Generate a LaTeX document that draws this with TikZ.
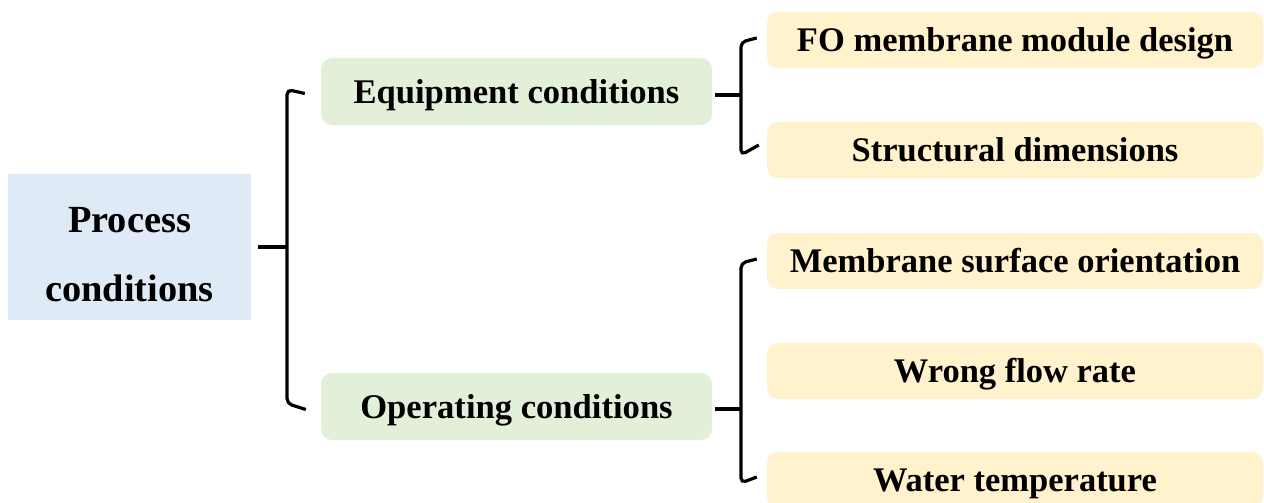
\documentclass[tikz,border=0pt]{standalone}
\usepackage{fontspec}
\setmainfont{Liberation Serif}
\definecolor{blueF}{HTML}{DEEBF7}
\definecolor{greenF}{HTML}{E2F0D9}
\definecolor{yellowF}{HTML}{FFF2CC}
\tikzset{
  rootbox/.style={fill=blueF, draw=none, minimum width=243pt, minimum height=146pt, inner sep=0pt},
  roottext/.style={align=center, inner sep=0pt, font=\bfseries\fontsize{38.4}{69}\selectfont},
  midbox/.style={fill=greenF, draw=none, rounded corners=11pt, minimum width=391pt, minimum height=67pt, inner sep=0pt,
    text height=23pt, text depth=0pt, font=\bfseries\fontsize{34.6}{40}\selectfont},
  leafbox/.style={fill=yellowF, draw=none, rounded corners=11pt, minimum width=496pt, minimum height=56pt, inner sep=0pt,
    text height=23pt, text depth=0pt, font=\bfseries\fontsize{34.5}{40}\selectfont},
  brace/.style={draw=black, line width=3.2pt, rounded corners=5pt, line cap=butt}
}
\begin{document}
\begin{tikzpicture}[x=1pt,y=-1pt]
\useasboundingbox (0,0) rectangle (1264,503);
\clip (0,0) rectangle (1264,503);
\node[rootbox] (proc) at (129.5,247) {};
\node[roottext, anchor=north] (proctext) at (129.5,207) {Process\\conditions};
\node[midbox] (equip) at (516.5,91.5) {Equipment conditions};
\node[midbox] (oper) at (516.5,406.5) {Operating conditions};
\node[leafbox] (fo) at (1015,40) {FO membrane module design};
\node[leafbox] (sd) at (1015,150) {Structural dimensions};
\node[leafbox] (mso) at (1015,261) {Membrane surface orientation};
\node[leafbox] (wfr) at (1015,371) {Wrong flow rate};
\node[leafbox] (wt) at (1015,480) {Water temperature};
% main bracket
\coordinate (s0) at (287,247);
\draw[brace] ([xshift=7pt]proc.east) -- (s0);
\draw[brace] ([xshift=-16pt,yshift=-2pt]equip.west) -- (287,89.5) -- (287,403.5) -- ([xshift=-15pt,yshift=-3pt]oper.west);
% equipment bracket
\coordinate (s1) at (741,95);
\draw[brace] ([xshift=3pt]equip.east |- s1) -- (s1);
\draw[brace] ([xshift=-10pt,yshift=2pt]fo.west) -- (741,42) -- (741,155) -- ([xshift=-8pt,yshift=5pt]sd.west);
% operating bracket
\coordinate (s2) at (741,409);
\draw[brace] ([xshift=3pt]oper.east |- s2) -- (s2);
\draw[brace] ([xshift=-10pt,yshift=2pt]mso.west) -- (741,263) -- (741,483) -- ([xshift=-10pt,yshift=3pt]wt.west);
\end{tikzpicture}
\end{document}
